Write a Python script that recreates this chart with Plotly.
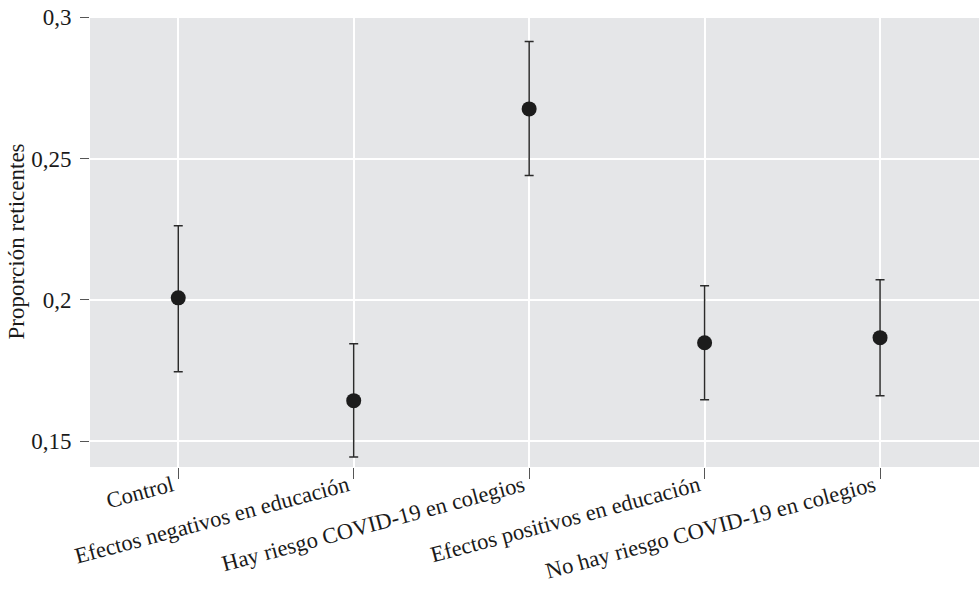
import plotly.graph_objects as go

categories = [
    "Control",
    "Efectos negativos en educación",
    "Hay riesgo COVID-19 en colegios",
    "Efectos positivos en educación",
    "No hay riesgo COVID-19 en colegios",
]
estimates = [0.2007, 0.1643, 0.2676, 0.1848, 0.1866]
upper = [0.2262, 0.1844, 0.2915, 0.2050, 0.2071]
lower = [0.1745, 0.1443, 0.2440, 0.1646, 0.1660]
ytick_vals = [0.15, 0.2, 0.25, 0.3]
ytick_text = ["0,15", "0,2", "0,25", "0,3"]

err_plus = [u - e for u, e in zip(upper, estimates)]
err_minus = [e - l for e, l in zip(estimates, lower)]

FONT = "Liberation Serif, DejaVu Serif, serif"

fig = go.Figure()
fig.add_trace(go.Scatter(
    x=categories,
    y=estimates,
    mode="markers",
    marker=dict(size=15, color="#1c1c1c"),
    error_y=dict(
        type="data",
        symmetric=False,
        array=err_plus,
        arrayminus=err_minus,
        color="#2b2b2b",
        thickness=1.5,
        width=4.5,
    ),
    showlegend=False,
))

fig.update_layout(
    width=979,
    height=589,
    margin=dict(l=90, r=0, t=16, b=122),
    paper_bgcolor="white",
    plot_bgcolor="#e5e6e8",
    font=dict(family=FONT, size=23, color="#1a1a1a"),
    xaxis=dict(
        type="category",
        range=[-0.503, 4.564],
        automargin=False,
        showgrid=True,
        gridcolor="white",
        gridwidth=1.5,
        ticks="outside",
        ticklen=11,
        tickwidth=1.2,
        tickcolor="#555555",
        tickangle=-15,
        ticklabelstandoff=-15,
        ticklabelshift=-6,
        ticklabeloverflow="allow",
        tickfont=dict(family=FONT, size=22.5, color="#1a1a1a"),
        zeroline=False,
        showline=False,
    ),
    yaxis=dict(
        range=[0.1408, 0.3005],
        automargin=False,
        tickvals=ytick_vals,
        ticktext=ytick_text,
        showgrid=True,
        gridcolor="white",
        gridwidth=1.5,
        ticks="outside",
        ticklen=9,
        tickwidth=1.2,
        tickcolor="#555555",
        ticklabelstandoff=4,
        ticklabeloverflow="allow",
        tickfont=dict(family=FONT, size=23, color="#1a1a1a"),
        title=dict(text="Proporción reticentes", font=dict(family=FONT, size=23, color="#1a1a1a"), standoff=0),
        zeroline=False,
        showline=False,
    ),
)

fig.write_html(
    "out.html",
    config={"displayModeBar": False},
    post_script="document.body.style.margin='0';document.body.style.overflow='hidden';",
)
